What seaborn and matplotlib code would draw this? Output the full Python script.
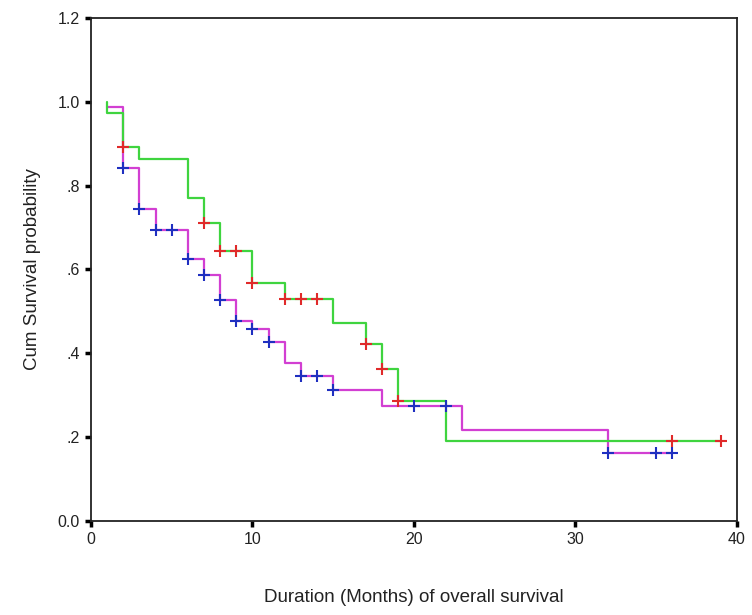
import matplotlib
matplotlib.use("Agg")
import matplotlib.pyplot as plt
import seaborn as sns
import pandas as pd

# Green group: Kaplan-Meier steps
green_times = [1, 1, 2, 3, 6, 7, 8, 10, 12, 15, 17, 18, 19, 22, 39]
green_surv = [1.0, 0.974, 0.893, 0.864, 0.771, 0.711, 0.644, 0.568, 0.530,
              0.473, 0.422, 0.363, 0.286, 0.191, 0.191]
green_cens_t = [2, 7, 8, 9, 10, 12, 13, 14, 17, 18, 19, 36, 39]
green_cens_s = [0.893, 0.711, 0.644, 0.644, 0.568, 0.530, 0.530, 0.530,
                0.422, 0.363, 0.286, 0.191, 0.191]

# Magenta group
mag_times = [1, 2, 3, 4, 6, 7, 8, 9, 10, 11, 12, 13, 15, 18, 23, 32, 36]
mag_surv = [0.988, 0.842, 0.745, 0.694, 0.625, 0.587, 0.527, 0.478, 0.457,
            0.427, 0.377, 0.346, 0.313, 0.274, 0.218, 0.162, 0.162]
mag_cens_t = [2, 3, 4, 5, 6, 7, 8, 9, 10, 11, 13, 14, 15, 20, 22, 32, 35, 36]
mag_cens_s = [0.842, 0.745, 0.694, 0.694, 0.625, 0.587, 0.527, 0.478, 0.457,
              0.427, 0.346, 0.346, 0.313, 0.274, 0.274, 0.162, 0.162, 0.162]

x_ticks = [0, 10, 20, 30, 40]
y_ticks = [0.0, 0.2, 0.4, 0.6, 0.8, 1.0, 1.2]
y_ticklabels = ["0.0", ".2", ".4", ".6", ".8", "1.0", "1.2"]

sns.set_theme(style="white")
plt.rcParams["font.family"] = ["Liberation Sans", "DejaVu Sans"]

fig = plt.figure(figsize=(7.52, 6.15), dpi=100)
ax = fig.add_axes([0.121, 0.153, 0.859, 0.818])

green_df = pd.DataFrame({"t": green_times, "s": green_surv})
mag_df = pd.DataFrame({"t": mag_times, "s": mag_surv})
gc_df = pd.DataFrame({"t": green_cens_t, "s": green_cens_s})
mc_df = pd.DataFrame({"t": mag_cens_t, "s": mag_cens_s})

green_col = "#3fd43f"
mag_col = "#d23fd2"
red_col = "#e02a2a"
blue_col = "#1f2fc0"

sns.lineplot(data=mag_df, x="t", y="s", estimator=None, sort=False,
             drawstyle="steps-post", color=mag_col, linewidth=1.6, ax=ax)
sns.lineplot(data=green_df, x="t", y="s", estimator=None, sort=False,
             drawstyle="steps-post", color=green_col, linewidth=1.6, ax=ax)
sns.scatterplot(data=mc_df, x="t", y="s", marker="+", s=70, color=blue_col,
                linewidth=1.5, ax=ax, zorder=5)
sns.scatterplot(data=gc_df, x="t", y="s", marker="+", s=70, color=red_col,
                linewidth=1.5, ax=ax, zorder=5)

ax.set_xlim(0, 40)
ax.set_ylim(0, 1.2)
ax.set_xticks(x_ticks)
ax.set_xticklabels([str(v) for v in x_ticks])
ax.set_yticks(y_ticks)
ax.set_yticklabels(y_ticklabels)
ax.tick_params(axis="both", direction="out", length=4, width=2.5,
               bottom=True, left=True, top=False, right=False,
               colors="black", labelsize=11.5, pad=4, labelcolor="#222222")
for sp in ax.spines.values():
    sp.set_visible(True)
    sp.set_color("#222222")
    sp.set_linewidth(1.3)

ax.set_xlabel("Duration (Months) of overall survival", fontsize=13.5,
              color="#222222", labelpad=30)
ax.set_ylabel("Cum Survival probability", fontsize=13.5, color="#222222",
              labelpad=12)

fig.savefig("out.png", dpi=100)
